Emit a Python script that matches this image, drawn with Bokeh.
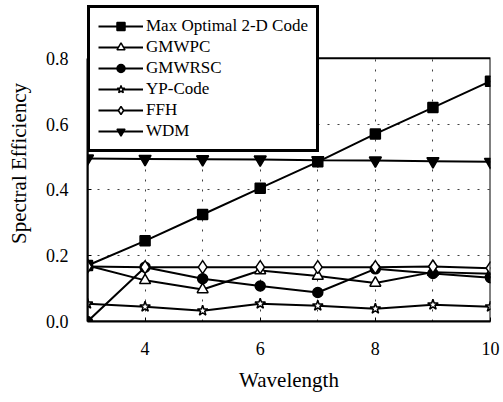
from bokeh.plotting import figure
from bokeh.models import Legend, LegendItem, FixedTicker, PrintfTickFormatter, Range1d, BoxAnnotation
from bokeh.embed import file_html
from bokeh.resources import INLINE

wavelength = [3, 4, 5, 6, 7, 8, 9, 10]
max_opt = [0.17, 0.245, 0.325, 0.405, 0.485, 0.57, 0.65, 0.73]
gmwpc = [0.17, 0.125, 0.097, 0.155, 0.138, 0.117, 0.15, 0.145]
gmwrsc = [0.0, 0.165, 0.13, 0.108, 0.088, 0.16, 0.146, 0.133]
yp_code = [0.054, 0.045, 0.033, 0.054, 0.048, 0.039, 0.051, 0.045]
ffh = [0.167, 0.165, 0.165, 0.165, 0.165, 0.165, 0.167, 0.162]
wdm = [0.495, 0.494, 0.493, 0.492, 0.49, 0.489, 0.487, 0.485]

x_ticks = [4, 6, 8, 10]
y_ticks = [0.0, 0.2, 0.4, 0.6, 0.8]
x_min, x_max = 3, 10
y_min, y_max = 0.0, 0.8

FONT = "Liberation Serif"

p = figure(width=500, height=400, output_backend="svg", toolbar_location=None,
           x_range=Range1d(x_min, x_max), y_range=Range1d(y_min, 0.96),
           min_border_left=87, min_border_right=10, min_border_top=5, min_border_bottom=79)
p.background_fill_color = "white"
p.border_fill_color = "white"
p.outline_line_color = None

series = [
    ("Max Optimal 2-D Code", max_opt, "square", 10, "black"),
    ("GMWPC", gmwpc, "triangle", 11, "white"),
    ("GMWRSC", gmwrsc, "circle", 10, "black"),
    ("YP-Code", yp_code, "star", 11, "white"),
    ("FFH", ffh, "diamond", 13, "white"),
    ("WDM", wdm, "inverted_triangle", 12, "black"),
]

items = []
for name, ys, marker, size, fill in series:
    r1 = p.line(wavelength, ys, line_color="black", line_width=2)
    r2 = p.scatter(wavelength, ys, marker=marker, size=size, fill_color=fill,
                   line_color="black", line_width=1.5)
    items.append(LegendItem(label=name, renderers=[r1, r2]))

for ax in (p.xaxis[0], p.yaxis[0]):
    ax.axis_line_color = "black"
    ax.axis_line_width = 2
    ax.major_tick_in = 4
    ax.major_tick_out = 0
    ax.minor_tick_line_color = None
    ax.major_label_text_font = FONT
    ax.major_label_text_font_size = "18px"
    ax.major_label_text_color = "black"
    ax.axis_label_text_font = FONT
    ax.axis_label_text_font_size = "21px"
    ax.axis_label_text_font_style = "normal"
    ax.axis_label_text_color = "black"

p.yaxis.bounds = (y_min, y_max)
p.xaxis.ticker = FixedTicker(ticks=x_ticks)
p.yaxis.ticker = FixedTicker(ticks=y_ticks)
p.yaxis.formatter = PrintfTickFormatter(format="%.1f")
p.xaxis.axis_label = "Wavelength"
p.yaxis.axis_label = "Spectral Efficiency"
p.xaxis.major_label_standoff = 20
p.yaxis.major_label_standoff = 19
p.xaxis.axis_label_standoff = 10
p.yaxis.axis_label_standoff = 12

p.xgrid.ticker = FixedTicker(ticks=[4, 5, 6, 7, 8, 9])
p.ygrid.ticker = FixedTicker(ticks=[0.2, 0.4, 0.6])
p.xgrid.cross_bounds = (y_min, y_max)
for g in (p.xgrid[0], p.ygrid[0]):
    g.grid_line_color = "black"
    g.grid_line_dash = "2 8"
    g.grid_line_width = 1
    g.grid_line_alpha = 0.75

frame_box = BoxAnnotation(left=x_min, right=x_max, bottom=y_min, top=y_max,
                          fill_alpha=0, line_color="black", line_alpha=1, line_width=2)
p.add_layout(frame_box)

legend = Legend(items=items, location="top_left")
legend.label_text_font = FONT
legend.label_text_font_size = "17px"
legend.label_text_color = "black"
legend.glyph_width = 45
legend.glyph_height = 20
legend.label_height = 20
legend.label_width = 160
legend.label_standoff = 3
legend.spacing = 1
legend.padding = 8
legend.margin = 0
legend.border_line_color = "black"
legend.border_line_alpha = 1
legend.border_line_width = 3
legend.background_fill_color = "white"
legend.background_fill_alpha = 1
p.add_layout(legend, "center")

open("out.html", "w").write(file_html(p, INLINE))
